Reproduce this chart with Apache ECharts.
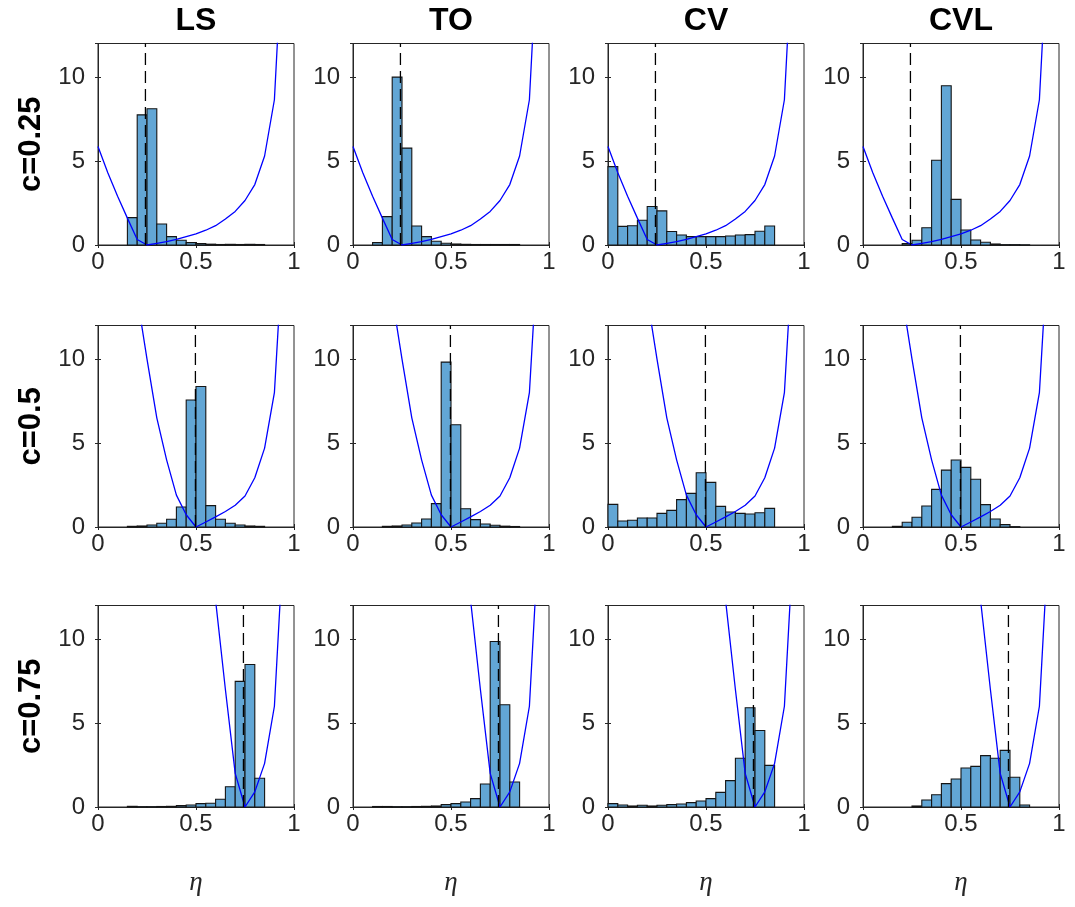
<!DOCTYPE html>
<html>
<head>
<meta charset="utf-8">
<title>eta histograms</title>
<script src="https://cdn.jsdelivr.net/npm/echarts@6/dist/echarts.min.js"></script>
<style>
html, body { margin: 0; padding: 0; background: #fff; }
#main { width: 1075px; height: 907px; }
</style>
</head>
<body>
<div id="main"></div>
<script>
// column / row labels
var methods = ['LS', 'TO', 'CV', 'CVL'];
var rowLabels = ['c=0.25', 'c=0.5', 'c=0.75'];
var markers = [0.242, 0.497, 0.742];   // dashed vertical lines
var xTicks = [0, 0.5, 1];
var yTicks = [0, 5, 10];

// histogram bin edges (bin width 0.05)
var binEdges = [0, 0.05, 0.1, 0.15, 0.2, 0.25, 0.3, 0.35, 0.4, 0.45, 0.5, 0.55, 0.6, 0.65, 0.7, 0.75, 0.8, 0.85];

// bin heights, c = 0.25
var ls025  = [0, 0, 0, 1.63, 7.75, 8.11, 1.25, 0.5, 0.28, 0.14, 0.08, 0.05, 0.03, 0.04, 0.03, 0.04, 0.03];
var to025  = [0, 0, 0.14, 1.69, 10.0, 5.77, 1.13, 0.5, 0.22, 0.1, 0.06, 0.04, 0.03, 0.03, 0.03, 0.03, 0.03];
var cv025  = [4.67, 1.11, 1.15, 1.47, 2.29, 2.03, 0.8, 0.6, 0.5, 0.5, 0.5, 0.5, 0.54, 0.6, 0.62, 0.82, 1.13];
var cvl025 = [0, 0, 0, 0, 0.08, 0.28, 1.03, 5.05, 9.48, 2.72, 0.89, 0.3, 0.16, 0.06, 0.02, 0.02, 0.01];
// c = 0.5
var ls05  = [0, 0, 0, 0.04, 0.06, 0.12, 0.22, 0.46, 1.19, 7.56, 8.37, 1.27, 0.46, 0.22, 0.12, 0.06, 0.04];
var to05  = [0, 0, 0, 0.04, 0.06, 0.12, 0.24, 0.48, 1.39, 9.82, 6.09, 1.09, 0.44, 0.18, 0.1, 0.05, 0.03];
var cv05  = [1.35, 0.36, 0.4, 0.54, 0.54, 0.81, 0.99, 1.63, 2.0, 3.23, 2.66, 1.23, 0.89, 0.81, 0.77, 0.85, 1.11];
var cvl05 = [0, 0, 0, 0.04, 0.28, 0.58, 1.25, 2.24, 3.39, 3.99, 3.55, 2.84, 1.33, 0.48, 0.14, 0.02, 0];
// c = 0.75
var ls075  = [0, 0, 0, 0.04, 0.02, 0.02, 0.03, 0.04, 0.08, 0.12, 0.2, 0.22, 0.46, 1.21, 7.48, 8.49, 1.71];
var to075  = [0, 0, 0.03, 0.03, 0.02, 0.02, 0.03, 0.04, 0.06, 0.14, 0.2, 0.3, 0.5, 1.37, 9.86, 6.09, 1.49];
var cv075  = [0.2, 0.12, 0.06, 0.1, 0.06, 0.1, 0.14, 0.18, 0.26, 0.36, 0.5, 0.87, 1.57, 2.9, 5.91, 4.56, 2.48];
var cvl075 = [0, 0, 0, 0, 0, 0.06, 0.42, 0.73, 1.39, 1.67, 2.32, 2.42, 3.06, 2.9, 3.37, 1.77, 0.12];

// blue curve, sampled on etaGrid (null = not drawn)
var etaGrid = [0, 0.05, 0.1, 0.15, 0.2, 0.25, 0.3, 0.35, 0.4, 0.45, 0.5, 0.55, 0.6, 0.65, 0.7, 0.75, 0.8, 0.85, 0.9, 0.95];
var loss025 = [5.87, 4.3, 2.9, 1.6, 0.33, 0, 0.1, 0.2, 0.34, 0.5, 0.66, 0.88, 1.15, 1.55, 2.0, 2.65, 3.6, 5.3, 8.65, 19.8];
var loss05  = [null, null, null, null, 13.7, 10.0, 6.5, 4.0, 1.9, 0.73, 0, 0.3, 0.6, 0.92, 1.3, 1.85, 2.93, 4.7, 8.0, 18.0];
var loss075 = [null, null, null, null, null, null, null, null, null, null, null, 17.6, 12.3, 7.0, 2.0, 0, 0.9, 2.6, 6.0, 16.7];

var counts = [
    [ls025, to025, cv025, cvl025],
    [ls05, to05, cv05, cvl05],
    [ls075, to075, cv075, cvl075]
];
var losses = [loss025, loss05, loss075];

// layout
var colLeft = [98, 353, 608, 863];
var rowTop = [43.5, 325.5, 605.5];
var panelW = 196, panelH = 201.5;
var axisColor = '#262626';
var font = 'Liberation Sans';

var chart = echarts.init(document.getElementById('main'));

function renderBar(params, api) {
    var p0 = api.coord([api.value(0), api.value(2)]);
    var p1 = api.coord([api.value(1), 0]);
    return {
        type: 'rect',
        shape: { x: p0[0], y: p0[1], width: p1[0] - p0[0], height: p1[1] - p0[1] },
        style: { fill: '#62a6d5', stroke: '#151515', lineWidth: 1.1 }
    };
}

var grids = [], xAxes = [], yAxes = [], series = [], graphics = [];

for (var r = 0; r < 3; r++) {
    for (var c = 0; c < 4; c++) {
        var k = grids.length;
        grids.push({
            left: colLeft[c], top: rowTop[r], width: panelW, height: panelH,
            outerBoundsMode: 'none',
            show: true, borderColor: axisColor, borderWidth: 1, backgroundColor: '#fff'
        });
        // bottom x axis (labels) and top x axis (ticks only)
        xAxes.push({
            gridIndex: k, type: 'value', position: 'bottom',
            min: 0, max: 1, interval: 0.5,
            axisLine: { lineStyle: { color: axisColor, width: 1 } },
            axisTick: { inside: true, length: 3, lineStyle: { color: axisColor } },
            splitLine: { show: false },
            axisLabel: { color: axisColor, fontSize: 24, fontFamily: font, margin: 5 },
            name: r === 2 ? 'η' : '',
            nameLocation: 'middle', nameGap: 62,
            nameTextStyle: { fontSize: 27, fontStyle: 'italic', fontFamily: 'Liberation Serif', color: axisColor }
        });
        xAxes.push({
            gridIndex: k, type: 'value', position: 'top',
            min: 0, max: 1, interval: 0.5,
            axisLine: { lineStyle: { color: axisColor, width: 1 } },
            axisTick: { inside: true, length: 3, lineStyle: { color: axisColor } },
            splitLine: { show: false },
            axisLabel: { show: false }
        });
        yAxes.push({
            gridIndex: k, type: 'value', position: 'left',
            min: 0, max: 12, interval: 5,
            axisLine: { show: true, lineStyle: { color: axisColor, width: 1 } },
            axisTick: { show: true, inside: true, length: 3, lineStyle: { color: axisColor } },
            splitLine: { show: false },
            axisLabel: { color: axisColor, fontSize: 24, fontFamily: font, margin: 13, showMaxLabel: false },
            name: c === 0 ? rowLabels[r] : '',
            nameLocation: 'middle', nameGap: 51, nameRotate: 90,
            nameTextStyle: { fontSize: 31, fontWeight: 'bold', fontFamily: font, color: '#000' }
        });
        yAxes.push({
            gridIndex: k, type: 'value', position: 'right',
            min: 0, max: 12, interval: 5,
            axisLine: { show: true, lineStyle: { color: axisColor, width: 1 } },
            axisTick: { show: true, inside: true, length: 3, lineStyle: { color: axisColor } },
            splitLine: { show: false },
            axisLabel: { show: false }
        });

        var h = counts[r][c];
        var bars = [];
        for (var i = 0; i < h.length; i++) {
            if (h[i] > 0) bars.push([binEdges[i], binEdges[i + 1], h[i]]);
        }
        series.push({
            type: 'custom', xAxisIndex: 2 * k, yAxisIndex: 2 * k,
            renderItem: renderBar, encode: { x: [0, 1], y: 2 },
            data: bars, z: 1, silent: true
        });

        var curve = [];
        for (var j = 0; j < etaGrid.length; j++) {
            if (losses[r][j] !== null) curve.push([etaGrid[j], losses[r][j]]);
        }
        series.push({
            type: 'line', xAxisIndex: 2 * k, yAxisIndex: 2 * k,
            data: curve, showSymbol: false, clip: true, z: 3, silent: true,
            lineStyle: { color: '#0000ff', width: 1.3 }
        });
        series.push({
            type: 'line', xAxisIndex: 2 * k, yAxisIndex: 2 * k,
            data: [[markers[r], 0], [markers[r], 12]], showSymbol: false, z: 4, silent: true,
            lineStyle: { color: '#000', width: 1.3, type: [12, 6] }
        });
    }
}

for (var m = 0; m < methods.length; m++) {
    graphics.push({
        type: 'text', x: colLeft[m] + panelW / 2, y: 21,
        style: {
            text: methods[m], font: 'bold 32px "Liberation Sans"', fill: '#000',
            align: 'center', verticalAlign: 'middle',
            textAlign: 'center', textVerticalAlign: 'middle'
        }
    });
}

chart.setOption({
    animation: false,
    backgroundColor: '#fff',
    grid: grids,
    xAxis: xAxes,
    yAxis: yAxes,
    series: series,
    graphic: graphics
});
</script>
</body>
</html>
